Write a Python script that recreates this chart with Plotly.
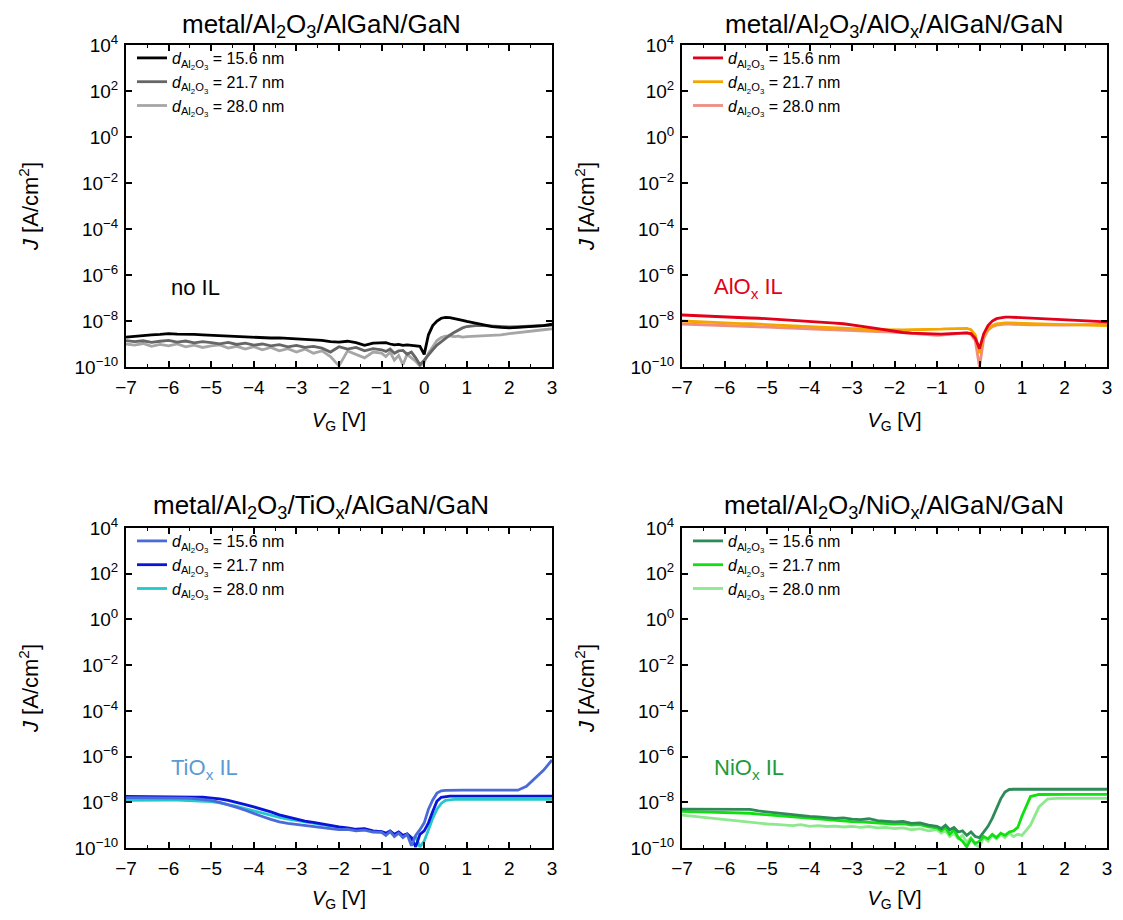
import plotly.graph_objects as go

# ---------------- data ----------------
V = [-7.0, -6.8, -6.6, -6.4, -6.2, -6.0, -5.8, -5.6, -5.4, -5.2,
     -5.0, -4.8, -4.6, -4.4, -4.2, -4.0, -3.8, -3.6, -3.4, -3.2,
     -3.0, -2.8, -2.6, -2.4, -2.2, -2.0, -1.8, -1.6, -1.4, -1.2,
     -1.0, -0.9, -0.8, -0.7, -0.6, -0.5, -0.4, -0.3, -0.2, -0.1,
     0.0, 0.1, 0.2, 0.3, 0.4, 0.5, 0.6, 0.7, 0.8, 0.9, 1.0,
     1.2, 1.4, 1.6, 1.8, 2.0, 2.2, 2.4, 2.6, 2.8, 3.0]

# log10(J [A/cm^2])
noIL_156 = [-8.70, -8.66, -8.63, -8.60, -8.58, -8.55, -8.57, -8.56, -8.58, -8.60,
            -8.62, -8.64, -8.66, -8.68, -8.70, -8.70, -8.72, -8.74, -8.73, -8.76,
            -8.78, -8.80, -8.82, -8.84, -8.90, -8.92, -8.88, -8.94, -9.06, -8.96,
            -8.96, -8.94, -9.00, -9.04, -9.02, -9.06, -9.04, -9.05, -9.06, -9.10,
            -9.45, -8.60, -8.20, -8.00, -7.88, -7.84, -7.85, -7.88, -7.92, -7.97, -8.02,
            -8.10, -8.18, -8.24, -8.28, -8.30, -8.28, -8.26, -8.24, -8.20, -8.14]
noIL_217 = [-8.85, -8.90, -8.86, -8.93, -8.88, -8.84, -8.92, -8.87, -8.95, -8.90,
            -8.94, -8.99, -8.93, -9.02, -8.96, -9.05, -9.00, -9.08, -9.03, -9.12,
            -9.06, -9.15, -9.10, -9.18, -9.35, -9.12, -9.22, -9.15, -9.30, -9.20,
            -9.25, -9.32, -9.22, -9.40, -9.30, -9.28, -9.45, -9.35, -9.60, -9.90,
            -9.70, -9.45, -9.25, -9.05, -8.90, -8.78, -8.62, -8.50, -8.40, -8.30, -8.24,
            -8.20, -8.20, -8.22, -8.25, -8.26, -8.25, -8.24, -8.22, -8.20, -8.18]
noIL_280 = [-9.00, -9.05, -8.98, -9.10, -9.02, -9.08, -9.00, -9.12, -9.05, -9.15,
            -9.08, -9.04, -9.18, -9.10, -9.22, -9.12, -9.25, -9.15, -9.30, -9.20,
            -9.35, -9.22, -9.40, -9.30, -9.55, -9.95, -9.30, -9.45, -9.60, -9.35,
            -9.40, -9.55, -9.35, -9.70, -9.50, -9.90, -9.45, -9.60, -9.75, -9.95,
            -9.80, -9.40, -9.10, -8.85, -8.72, -8.66, -8.65, -8.68, -8.66, -8.70, -8.68,
            -8.66, -8.66, -8.62, -8.60, -8.55, -8.50, -8.46, -8.42, -8.38, -8.34]

AlOx_156 = [-7.74, -7.76, -7.77, -7.79, -7.80, -7.82, -7.84, -7.85, -7.87, -7.88,
            -7.90, -7.92, -7.94, -7.96, -7.98, -8.00, -8.03, -8.06, -8.09, -8.12,
            -8.16, -8.22, -8.28, -8.34, -8.40, -8.46, -8.50, -8.53, -8.55, -8.56,
            -8.57, -8.57, -8.56, -8.55, -8.54, -8.53, -8.52, -8.52, -8.55, -8.75,
            -9.20, -8.55, -8.20, -8.00, -7.90, -7.85, -7.83, -7.83, -7.84, -7.85, -7.86,
            -7.88, -7.90, -7.92, -7.94, -7.96, -7.98, -8.00, -8.02, -8.03, -8.04]
AlOx_217 = [-8.00, -8.02, -8.03, -8.05, -8.06, -8.08, -8.09, -8.11, -8.12, -8.14,
            -8.15, -8.17, -8.18, -8.20, -8.21, -8.23, -8.25, -8.27, -8.29, -8.31,
            -8.33, -8.35, -8.37, -8.38, -8.39, -8.39, -8.39, -8.38, -8.38, -8.37,
            -8.36, -8.35, -8.34, -8.33, -8.32, -8.32, -8.31, -8.32, -8.38, -8.60,
            -9.40, -8.60, -8.35, -8.20, -8.12, -8.09, -8.08, -8.08, -8.09, -8.10, -8.11,
            -8.12, -8.13, -8.14, -8.15, -8.16, -8.17, -8.18, -8.18, -8.19, -8.20]
AlOx_280 = [-8.13, -8.14, -8.16, -8.17, -8.19, -8.20, -8.21, -8.23, -8.24, -8.25,
            -8.27, -8.28, -8.30, -8.31, -8.33, -8.34, -8.36, -8.37, -8.39, -8.40,
            -8.42, -8.43, -8.44, -8.45, -8.46, -8.47, -8.50, -8.54, -8.57, -8.60,
            -8.62, -8.61, -8.60, -8.58, -8.56, -8.55, -8.53, -8.52, -8.58, -8.85,
            -10.00, -8.75, -8.40, -8.25, -8.18, -8.15, -8.14, -8.14, -8.15, -8.16, -8.16,
            -8.17, -8.17, -8.18, -8.18, -8.18, -8.17, -8.17, -8.16, -8.15, -8.14]

TiOx_156 = [-7.80, -7.80, -7.80, -7.80, -7.80, -7.80, -7.81, -7.82, -7.84, -7.87,
            -7.92, -8.00, -8.10, -8.22, -8.35, -8.50, -8.62, -8.75, -8.86, -8.92,
            -8.96, -9.00, -9.05, -9.10, -9.15, -9.20, -9.18, -9.25, -9.22, -9.30,
            -9.32, -9.45, -9.28, -9.50, -9.35, -9.55, -9.40, -9.90, -9.45, -9.20,
            -8.90, -8.30, -7.90, -7.60, -7.50, -7.48, -7.47, -7.47, -7.47, -7.47, -7.47,
            -7.47, -7.47, -7.47, -7.47, -7.47, -7.47, -7.30, -6.95, -6.60, -6.15]
TiOx_217 = [-7.74, -7.74, -7.74, -7.74, -7.75, -7.75, -7.75, -7.76, -7.77, -7.78,
            -7.80, -7.85, -7.92, -8.00, -8.10, -8.20, -8.30, -8.42, -8.55, -8.65,
            -8.72, -8.82, -8.88, -8.95, -9.02, -9.08, -9.12, -9.18, -9.15, -9.25,
            -9.28, -9.35, -9.25, -9.40, -9.30, -9.45, -9.38, -9.55, -9.95, -9.40,
            -9.25, -8.90, -8.40, -7.95, -7.78, -7.74, -7.73, -7.73, -7.73, -7.73, -7.73,
            -7.73, -7.73, -7.73, -7.73, -7.73, -7.73, -7.73, -7.73, -7.73, -7.73]
TiOx_280 = [-7.92, -7.91, -7.90, -7.90, -7.90, -7.90, -7.90, -7.91, -7.92, -7.94,
            -7.97, -8.03, -8.10, -8.18, -8.28, -8.38, -8.48, -8.58, -8.66, -8.74,
            -8.80, -8.88, -8.94, -9.00, -9.06, -9.10, -9.15, -9.20, -9.18, -9.28,
            -9.30, -9.40, -9.28, -9.45, -9.35, -9.50, -9.40, -9.60, -9.50, -9.95,
            -9.70, -9.20, -8.70, -8.30, -8.05, -7.92, -7.88, -7.87, -7.87, -7.87, -7.87,
            -7.87, -7.87, -7.87, -7.87, -7.87, -7.87, -7.87, -7.87, -7.87, -7.87]

NiOx_156 = [-8.30, -8.30, -8.29, -8.30, -8.30, -8.31, -8.30, -8.32, -8.31, -8.38,
            -8.42, -8.48, -8.52, -8.56, -8.58, -8.62, -8.64, -8.66, -8.70, -8.68,
            -8.74, -8.76, -8.72, -8.80, -8.82, -8.86, -8.84, -8.92, -8.90, -9.00,
            -9.05, -9.15, -9.00, -9.20, -9.10, -9.30, -9.25, -9.45, -9.30, -9.50,
            -9.55, -9.30, -9.05, -8.70, -8.25, -7.85, -7.55, -7.44, -7.43, -7.43, -7.43,
            -7.43, -7.43, -7.43, -7.43, -7.43, -7.43, -7.43, -7.43, -7.43, -7.43]
NiOx_217 = [-8.40, -8.41, -8.42, -8.42, -8.43, -8.44, -8.45, -8.46, -8.48, -8.52,
            -8.55, -8.60, -8.64, -8.66, -8.70, -8.72, -8.75, -8.78, -8.80, -8.82,
            -8.85, -8.86, -8.88, -8.90, -8.92, -8.95, -8.93, -9.00, -8.98, -9.08,
            -9.12, -9.25, -9.10, -9.40, -9.20, -9.55, -9.70, -9.95, -9.60, -9.80,
            -9.70, -9.50, -9.60, -9.40, -9.55, -9.35, -9.45, -9.30, -9.25, -9.10, -8.60,
            -7.75, -7.66, -7.65, -7.65, -7.65, -7.65, -7.65, -7.65, -7.65, -7.65]
NiOx_280 = [-8.56, -8.60, -8.65, -8.70, -8.74, -8.78, -8.80, -8.84, -8.88, -8.92,
            -8.95, -8.97, -9.00, -9.02, -8.98, -9.05, -9.02, -9.06, -9.04, -9.08,
            -9.05, -9.10, -9.06, -9.12, -9.10, -9.15, -9.12, -9.20, -9.15, -9.25,
            -9.20, -9.35, -9.25, -9.50, -9.35, -9.60, -9.45, -9.75, -9.55, -9.85,
            -9.95, -9.55, -9.70, -9.45, -9.60, -9.40, -9.55, -9.35, -9.50, -9.40, -9.45,
            -9.00, -8.20, -7.86, -7.83, -7.83, -7.83, -7.83, -7.83, -7.83, -7.83]

thickness_labels = ["15.6", "21.7", "28.0"]
panel_titles = ["metal/Al<sub>2</sub>O<sub>3</sub>/AlGaN/GaN",
                "metal/Al<sub>2</sub>O<sub>3</sub>/AlO<sub>x</sub>/AlGaN/GaN",
                "metal/Al<sub>2</sub>O<sub>3</sub>/TiO<sub>x</sub>/AlGaN/GaN",
                "metal/Al<sub>2</sub>O<sub>3</sub>/NiO<sub>x</sub>/AlGaN/GaN"]
panel_tags = ["no IL", "AlO<sub>x</sub> IL", "TiO<sub>x</sub> IL", "NiO<sub>x</sub> IL"]
tag_colors = ["#000000", "#e2001a", "#5b9bd5", "#1f9a3a"]
y_tick_exps = [-10, -8, -6, -4, -2, 0, 2, 4]
y_tick_text = ["10<sup>\u221210</sup>", "10<sup>\u22128</sup>", "10<sup>\u22126</sup>",
               "10<sup>\u22124</sup>", "10<sup>\u22122</sup>", "10<sup>0</sup>",
               "10<sup>2</sup>", "10<sup>4</sup>"]
x_ticks = [-7, -6, -5, -4, -3, -2, -1, 0, 1, 2, 3]

panel_series = [[noIL_156, noIL_217, noIL_280],
                [AlOx_156, AlOx_217, AlOx_280],
                [TiOx_156, TiOx_217, TiOx_280],
                [NiOx_156, NiOx_217, NiOx_280]]
panel_colors = [["#000000", "#666666", "#a6a6a6"],
                ["#e2001a", "#f5a500", "#f08c80"],
                ["#4a6ad8", "#0a14d8", "#22c8cc"],
                ["#2e8b57", "#10e010", "#8ee88e"]]

# ---------------- layout geometry ----------------
# the page body has an 8 px margin, so the figure is placed 8 px in from the window corner
OFF = 8
W, H = 1107, 904


def px_x(v):
    return (v - OFF) / W


def px_y(v):
    return 1 - (v - OFF) / H


xdoms = [[px_x(126), px_x(552)], [px_x(682), px_x(1107)]]
ydoms = [[px_y(367), px_y(45)], [px_y(848), px_y(528)]]
title_cx = [321, 894]
title_cy = [26, 506]
FONT = "Liberation Sans, Arial, Helvetica, sans-serif"

fig = go.Figure()
layout = dict(width=W, height=H, margin=dict(l=0, r=0, t=0, b=0, autoexpand=False),
              paper_bgcolor="white", plot_bgcolor="white",
              font=dict(family=FONT, color="black"), showlegend=True)
annotations = []

for p in range(4):
    r, c = divmod(p, 2)
    sfx = "" if p == 0 else str(p + 1)
    xa, ya = "x" + sfx, "y" + sfx
    leg = "legend" + sfx
    for k in [2, 1, 0]:
        fig.add_trace(go.Scatter(
            x=V, y=[10 ** v for v in panel_series[p][k]], mode="lines",
            line=dict(color=panel_colors[p][k], width=2.8),
            name="<i>d</i><sub>Al<sub>2</sub>O<sub>3</sub></sub> = " + thickness_labels[k] + " nm",
            xaxis=xa, yaxis=ya, legend=leg, legendrank=k + 1))
    layout["xaxis" + sfx] = dict(
        domain=xdoms[c], anchor=ya, range=[-7, 3], tickmode="array", tickvals=x_ticks,
        automargin=False,
        ticks="inside", ticklen=6, tickwidth=1.5, tickcolor="black",
        minor=dict(tickmode="linear", tick0=-6.5, dtick=1, ticks="inside", ticklen=3,
                   tickwidth=1.2, tickcolor="black"),
        showline=True, linewidth=2, linecolor="black", mirror="allticks",
        showgrid=False, zeroline=False, ticklabelstandoff=2,
        tickfont=dict(size=19, family=FONT, color="black"),
        title=dict(text="<i>V</i><sub>G</sub> [V]", font=dict(size=20, family=FONT), standoff=16))
    layout["yaxis" + sfx] = dict(
        domain=ydoms[r], anchor=xa, type="log", range=[-10, 4],
        automargin=False,
        tickmode="array", tickvals=[10 ** e for e in y_tick_exps], ticktext=y_tick_text,
        ticks="inside", ticklen=6, tickwidth=1.5, tickcolor="black",
        showline=True, linewidth=2, linecolor="black", mirror="allticks",
        showgrid=False, zeroline=False, ticklabelstandoff=2,
        tickfont=dict(size=19, family=FONT, color="black"),
        title=dict(text="<i>J</i> [A/cm<sup>2</sup>]", font=dict(size=22, family=FONT), standoff=30))
    layout[leg] = dict(
        x=xdoms[c][0] + 6 / W, y=ydoms[r][1] + 4 / H, xref="paper", yref="paper",
        xanchor="left", yanchor="top", bgcolor="rgba(0,0,0,0)", borderwidth=0,
        font=dict(size=16, family=FONT, color="black"), tracegroupgap=0,
        traceorder="normal", itemwidth=30)
    annotations.append(dict(
        text=panel_titles[p], xref="paper", yref="paper",
        x=px_x(title_cx[c]), y=px_y(title_cy[r]), xanchor="center", yanchor="middle",
        showarrow=False, font=dict(size=26, family=FONT, color="black")))
    annotations.append(dict(
        text=panel_tags[p], xref=xa, yref=ya,
        x=-6.0 if c == 0 else -6.3, y=-6.55, xanchor="left", yanchor="middle",
        showarrow=False, font=dict(size=22, family=FONT, color=tag_colors[p])))

layout["annotations"] = annotations
fig.update_layout(**layout)
fig.write_html("out.html")
